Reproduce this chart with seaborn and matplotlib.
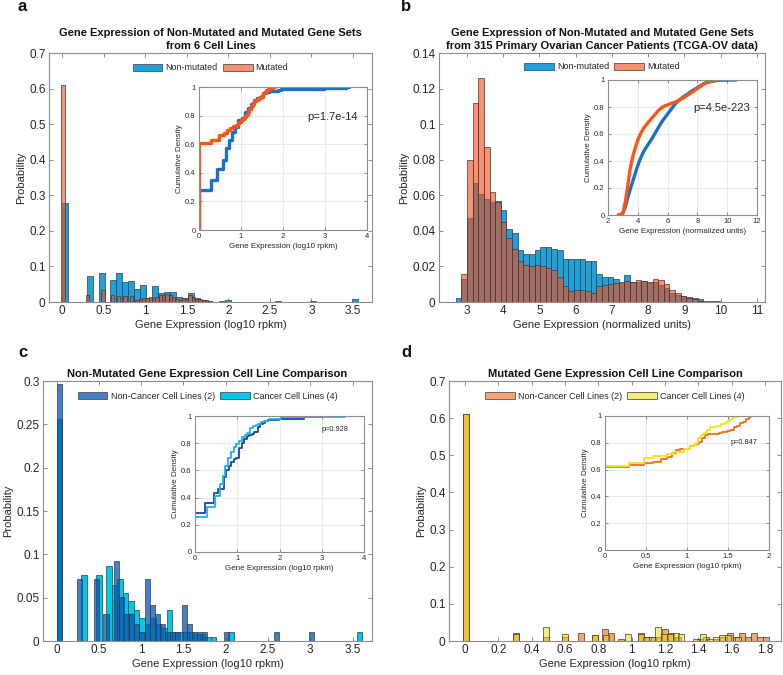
import numpy as np
import matplotlib
matplotlib.use("Agg")
import matplotlib.pyplot as plt
from matplotlib.colors import to_rgba
from matplotlib.patches import Patch
from matplotlib.ticker import FuncFormatter
import seaborn as sns

# ---- panel a: 6 cell lines, probability per bin (bin left edge, log10 rpkm)
a_nonmut_x = [0.0, 0.297, 0.437, 0.58, 0.652, 0.724, 0.796, 0.868, 0.94, 1.012, 1.084, 1.156, 1.228,
              1.30, 1.372, 1.444, 1.516, 1.588, 1.66, 1.732, 1.89, 1.96, 2.56, 2.98, 3.49]
a_nonmut_p = [0.277, 0.072, 0.081, 0.061, 0.081, 0.055, 0.058, 0.037, 0.049, 0.012, 0.045, 0.025, 0.028,
              0.028, 0.013, 0.010, 0.025, 0.010, 0.005, 0.003, 0.004, 0.007, 0.004, 0.003, 0.008]
a_mut_x = [-0.01, 0.285, 0.47, 0.585, 0.66, 0.735, 0.81, 0.88, 0.92, 0.96, 1.00, 1.04, 1.08, 1.12, 1.16,
           1.20, 1.24, 1.28, 1.32, 1.36, 1.40, 1.44, 1.48, 1.52, 1.56, 1.60, 1.64, 1.68, 1.72, 1.76]
a_mut_p = [0.611, 0.021, 0.034, 0.019, 0.016, 0.016, 0.018, 0.007, 0.009, 0.010, 0.010, 0.013, 0.012, 0.015,
           0.019, 0.021, 0.022, 0.019, 0.014, 0.009, 0.007, 0.010, 0.009, 0.020, 0.013, 0.009, 0.008, 0.006,
           0.005, 0.004]
a_pval = "p=1.7e-14"

# ---- panel b: TCGA-OV patients, shared bins (normalized units)
b_bin_start = 2.695
b_bin_width = 0.155
b_nonmut_p = [0.002, 0.013, 0.047, 0.067, 0.061, 0.058, 0.056, 0.057, 0.052, 0.041,
              0.039, 0.029, 0.027, 0.027, 0.029, 0.031, 0.031, 0.030, 0.029, 0.024,
              0.024, 0.024, 0.024, 0.023, 0.023, 0.016, 0.014, 0.014, 0.013, 0.0105,
              0.015, 0.011, 0.011, 0.012, 0.0105, 0.011, 0.0095, 0.0077, 0.005, 0.004,
              0.0035, 0.003, 0.0025, 0.0015, 0.0008, 0.0003, 0.0003, 0.0002, 0.0002, 0.0002, 0.0001]
b_mut_p = [0.0, 0.016, 0.080, 0.112, 0.126, 0.087, 0.062, 0.056, 0.045, 0.036,
           0.030, 0.023, 0.021, 0.020, 0.021, 0.020, 0.019, 0.018, 0.014, 0.009,
           0.006, 0.007, 0.007, 0.006, 0.005, 0.009, 0.0095, 0.010, 0.0105, 0.011,
           0.012, 0.011, 0.0125, 0.012, 0.011, 0.0128, 0.0125, 0.010, 0.0067, 0.005,
           0.0034, 0.0024, 0.0015, 0.0006]
b_pval = "p=4.5e-223"

# ---- panel c: non-mutated genes, non-cancer vs cancer lines
c_nc_x = [0.005, 0.245, 0.44, 0.555, 0.68, 0.74, 0.80, 0.86, 0.92, 0.98, 1.045, 1.105, 1.165, 1.225,
          1.285, 1.345, 1.405, 1.48, 1.54, 1.60, 1.66, 1.72, 1.98, 2.57, 2.99]
c_nc_p = [0.296, 0.0715, 0.0715, 0.031, 0.092, 0.051, 0.031, 0.031, 0.020, 0.010, 0.072, 0.041, 0.031,
          0.020, 0.010, 0.010, 0.010, 0.0415, 0.020, 0.010, 0.010, 0.010, 0.010, 0.010, 0.010]
c_c_x = [0.005, 0.29, 0.47, 0.59, 0.655, 0.72, 0.785, 0.85, 0.915, 0.98, 1.045, 1.11, 1.175, 1.24,
         1.305, 1.37, 1.435, 1.50, 1.565, 1.63, 1.695, 1.76, 1.825, 2.03, 3.55]
c_c_p = [0.256, 0.0765, 0.0765, 0.087, 0.065, 0.072, 0.055, 0.046, 0.036, 0.026, 0.020, 0.026, 0.020,
         0.015, 0.036, 0.010, 0.010, 0.010, 0.010, 0.008, 0.008, 0.005, 0.005, 0.010, 0.010]
c_pval = "p=0.928"

# ---- panel d: mutated genes, non-cancer vs cancer lines
d_nc_x = [-0.015, 0.29, 0.47, 0.58, 0.68, 0.76, 0.82, 0.86, 0.92, 1.04, 1.08, 1.115, 1.145, 1.18,
          1.22, 1.26, 1.39, 1.43, 1.49, 1.53, 1.57, 1.61, 1.645, 1.68, 1.715, 1.75, 1.785]
d_nc_p = [0.611, 0.021, 0.010, 0.010, 0.021, 0.015, 0.031, 0.021, 0.005, 0.021, 0.010, 0.010, 0.010,
          0.031, 0.021, 0.010, 0.005, 0.010, 0.005, 0.010, 0.021, 0.010, 0.021, 0.010, 0.021, 0.010, 0.010]
d_c_x = [-0.015, 0.29, 0.47, 0.58, 0.76, 0.83, 0.96, 1.035, 1.07, 1.105, 1.14, 1.175, 1.21, 1.245,
         1.28, 1.37, 1.41, 1.45, 1.49, 1.525, 1.56, 1.62]
d_c_p = [0.611, 0.020, 0.037, 0.020, 0.015, 0.015, 0.020, 0.020, 0.010, 0.010, 0.037, 0.020, 0.020,
         0.022, 0.020, 0.005, 0.020, 0.005, 0.010, 0.015, 0.015, 0.010]
d_pval = "p=0.847"

LOG_LABEL = "Gene Expression (log10 rpkm)"
NORM_LABEL = "Gene Expression (normalized units)"

sns.set_style("ticks")
plt.rcParams['font.family'] = ['Liberation Sans', 'DejaVu Sans']
TXT = '#262626'
EDGE = '#3a3a3a'

fig = plt.figure(figsize=(7.83, 6.75), dpi=100)
W, H = 783.0, 675.0


def rect(l, t, r, b):
    return [l / W, 1 - b / H, (r - l) / W, (b - t) / H]


fmt = FuncFormatter(lambda v, pos: '%g' % round(v, 6))


def style(ax, xlim, ylim, xticks, yticks, size=8.5, tlen=3):
    ax.set_xlim(xlim)
    ax.set_ylim(ylim)
    ax.set_xticks(xticks)
    ax.set_yticks(yticks)
    ax.xaxis.set_major_formatter(fmt)
    ax.yaxis.set_major_formatter(fmt)
    ax.tick_params(direction='in', top=True, right=True, length=tlen, width=0.6,
                   labelsize=size, labelcolor=TXT, color='#777777', pad=2.5)
    for s in ax.spines.values():
        s.set_visible(True)
        s.set_color('#8c8c8c')
        s.set_linewidth(0.8)


def hist(ax, x, p, width, color, alpha):
    face = to_rgba(color, alpha)
    ax.bar(x, p, width=width, align='edge', color=face, edgecolor=EDGE, linewidth=0.5)
    return face


def ecdf(x, p, width):
    x = np.clip(np.asarray(x, float), 0, None)
    c = np.cumsum(p) / np.sum(p)
    return np.r_[x[0], x, x[-1] + width], np.r_[0, c, 1]


def cdf_line(ax, xs, ys, color, lw, steps=True):
    kw = dict(drawstyle='steps-post') if steps else {}
    sns.lineplot(x=xs, y=ys, ax=ax, color=color, linewidth=lw, estimator=None,
                 sort=False, legend=False, **kw)


def inset(r, xlim, xticks, xlabel, pval, px, py, psize):
    ax = fig.add_axes(r)
    style(ax, xlim, (0, 1), xticks, np.arange(0, 1.01, 0.2), size=5.5, tlen=2)
    ax.grid(True, color='#e2e2e2', linewidth=0.5)
    ax.set_axisbelow(True)
    ax.set_xlabel(xlabel, fontsize=5.8, color=TXT, labelpad=1.5)
    ax.set_ylabel("Cumulative Density", fontsize=5.8, color=TXT, labelpad=1.5)
    ax.text(px, py, pval, transform=ax.transAxes, ha='right', va='center', fontsize=psize, color=TXT)
    return ax


def legend(ax, handles, y):
    ax.legend(handles=handles, loc='center', bbox_to_anchor=(0.5, y), ncol=2, frameon=False,
              fontsize=6.5, handlelength=3.3, handleheight=0.9, handletextpad=0.35,
              columnspacing=0.55, borderaxespad=0, borderpad=0)


def title(ax, text):
    ax.set_title(text, fontsize=8, fontweight='bold', color='#111111', pad=3, linespacing=1.35)


# ---------------- panel a
ax = fig.add_axes(rect(49, 53, 372, 302))
f1 = hist(ax, a_nonmut_x, a_nonmut_p, 0.072, '#1FA2DC', 1.0)
f2 = hist(ax, a_mut_x, a_mut_p, 0.04, (0.97, 0.30, 0.10), 0.62)
style(ax, (-0.16, 3.73), (0, 0.7), np.arange(0, 3.6, 0.5), np.arange(0, 0.71, 0.1))
ax.set_xlabel(LOG_LABEL, fontsize=8, color=TXT, labelpad=2)
ax.set_ylabel("Probability", fontsize=8, color=TXT, labelpad=2)
title(ax, "Gene Expression of Non-Mutated and Mutated Gene Sets\nfrom 6 Cell Lines")
legend(ax, [Patch(facecolor=f1, edgecolor=EDGE, lw=0.5, label="Non-mutated"),
            Patch(facecolor=f2, edgecolor=EDGE, lw=0.5, label="Mutated")], 0.94)
ia = inset(rect(199, 87, 367, 230), (0, 4), range(0, 5), LOG_LABEL, a_pval, 0.946, 0.79, 8)
cdf_line(ia, *ecdf(a_nonmut_x, a_nonmut_p, 0.072), '#1B72C4', 2.4)
cdf_line(ia, *ecdf(a_mut_x, a_mut_p, 0.04), '#FF5514', 2.4)

# ---------------- panel b
b_nonmut_x = b_bin_start + b_bin_width * np.arange(len(b_nonmut_p))
b_mut_x = b_bin_start + b_bin_width * np.arange(len(b_mut_p))
ax = fig.add_axes(rect(439, 53, 765, 302))
f1 = hist(ax, b_nonmut_x, b_nonmut_p, b_bin_width, '#1FA2DC', 1.0)
f2 = hist(ax, b_mut_x, b_mut_p, b_bin_width, (0.97, 0.30, 0.10), 0.62)
style(ax, (2.23, 11.22), (0, 0.14), range(3, 12), np.arange(0, 0.141, 0.02))
ax.set_xlabel(NORM_LABEL, fontsize=8, color=TXT, labelpad=2)
ax.set_ylabel("Probability", fontsize=8, color=TXT, labelpad=2)
title(ax, "Gene Expression of Non-Mutated and Mutated Gene Sets\n"
          "from 315 Primary Ovarian Cancer Patients (TCGA-OV data)")
legend(ax, [Patch(facecolor=f1, edgecolor=EDGE, lw=0.5, label="Non-mutated"),
            Patch(facecolor=f2, edgecolor=EDGE, lw=0.5, label="Mutated")], 0.944)
ib = inset(rect(608, 80, 757, 215), (2, 12), range(2, 13, 2), NORM_LABEL, b_pval, 0.953, 0.79, 8)
for px_, pp, col in [(b_nonmut_x, b_nonmut_p, '#1B72C4'), (b_mut_x, b_mut_p, '#FF5514')]:
    xs = np.r_[px_[0], px_ + b_bin_width]
    ys = np.r_[0, np.cumsum(pp) / np.sum(pp)]
    cdf_line(ib, xs, ys, col, 2.4, steps=False)

# ---------------- panel c
ax = fig.add_axes(rect(43, 381, 372, 641))
fc = hist(ax, c_c_x, c_c_p, 0.065, '#00C8E8', 1.0)
fn = hist(ax, c_nc_x, c_nc_p, 0.06, '#0755B4', 0.75)
style(ax, (-0.16, 3.73), (0, 0.3), np.arange(0, 3.6, 0.5), np.arange(0, 0.31, 0.05))
ax.set_xlabel(LOG_LABEL, fontsize=8, color=TXT, labelpad=2)
ax.set_ylabel("Probability", fontsize=8, color=TXT, labelpad=2)
title(ax, "Non-Mutated Gene Expression Cell Line Comparison")
legend(ax, [Patch(facecolor=fn, edgecolor=EDGE, lw=0.5, label="Non-Cancer Cell Lines (2)"),
            Patch(facecolor=fc, edgecolor=EDGE, lw=0.5, label="Cancer Cell Lines (4)")], 0.942)
ic = inset(rect(195, 416, 364, 552), (0, 4), range(0, 5), LOG_LABEL, c_pval, 0.905, 0.904, 5.3)
cdf_line(ic, *ecdf(c_nc_x, c_nc_p, 0.06), '#1F3FAE', 1.3)
cdf_line(ic, *ecdf(c_c_x, c_c_p, 0.065), '#1EB4E6', 1.3)

# ---------------- panel d
ax = fig.add_axes(rect(449, 381, 781, 641))
fn = hist(ax, d_nc_x, d_nc_p, 0.036, '#F6A571', 1.0)
fc = hist(ax, d_c_x, d_c_p, 0.036, '#EBDB00', 0.5)
style(ax, (-0.096, 1.896), (0, 0.7), np.arange(0, 1.81, 0.2), np.arange(0, 0.71, 0.1))
ax.set_xlabel(LOG_LABEL, fontsize=8, color=TXT, labelpad=2)
ax.set_ylabel("Probability", fontsize=8, color=TXT, labelpad=2)
title(ax, "Mutated Gene Expression Cell Line Comparison")
legend(ax, [Patch(facecolor=fn, edgecolor=EDGE, lw=0.5, label="Non-Cancer Cell Lines (2)"),
            Patch(facecolor=fc, edgecolor=EDGE, lw=0.5, label="Cancer Cell Lines (4)")], 0.942)
idd = inset(rect(605, 416, 769, 550), (0, 2), np.arange(0, 2.01, 0.5), LOG_LABEL, d_pval, 0.927, 0.80, 5.3)
cdf_line(idd, *ecdf(d_nc_x, d_nc_p, 0.036), '#F07020', 1.3)
cdf_line(idd, *ecdf(d_c_x, d_c_p, 0.036), '#F7E21B', 1.3)

# panel letters
for lab, x, y in [('a', 18, 11), ('b', 401, 11), ('c', 18, 357), ('d', 401, 357)]:
    fig.text(x / W, 1 - y / H, lab, fontsize=12, fontweight='bold', va='baseline', color='#111111')

fig.savefig("out.png", dpi=100)
